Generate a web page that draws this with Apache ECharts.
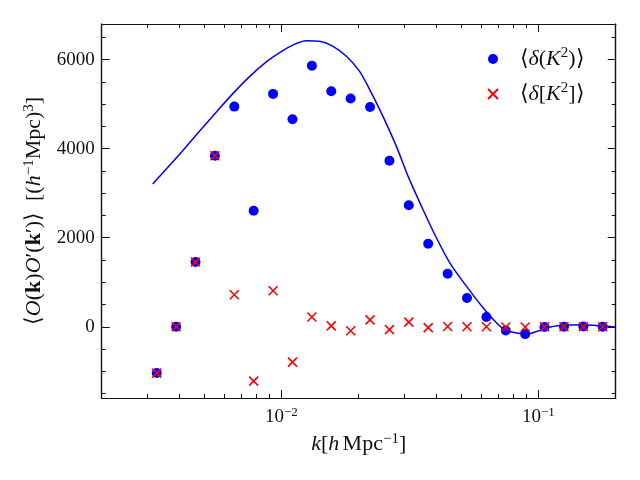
<!DOCTYPE html>
<html lang="en">
<head>
    <meta charset="UTF-8">
    <title>Title</title>
    <script src="https://cdn.jsdelivr.net/npm/echarts@6/dist/echarts.min.js"></script>
    <style>
        html, body { margin: 0; padding: 0; background: #fff; }
    </style>
</head>
<body>
    <div id="main" style="width: 640px;height:480px;"></div>

    <script type="text/javascript">

        // bin centres k [h/Mpc]
        var kBins = [0.003275, 0.003896, 0.004635, 0.005514, 0.006561, 0.007805, 0.009287, 0.01105,
                     0.01315, 0.01564, 0.01861, 0.02214, 0.02634, 0.03133, 0.03728, 0.04436,
                     0.05277, 0.06279, 0.0747, 0.08887, 0.1057, 0.1258, 0.1497, 0.178]
        // <delta(K^2)>  (blue dots)
        var roundVals = [-1040, 0, 1455, 3840, 4945, 2605, 5230, 4660,
                         5865, 5290, 5125, 4935, 3730, 2730, 1865, 1190,
                         645, 220, -85, -165, -5, 0, 5, 0]
        // <delta[K^2]>  (red crosses)
        var squareVals = [-1040, 0, 1455, 3840, 720, -1220, 810, -795,
                          220, 20, -90, 155, -65, 105, -20, 5,
                          0, 0, -5, -5, 0, 0, 0, 0]

        // model curve
        var lineK = [0.003159, 0.003954, 0.004802, 0.00558, 0.006477, 0.007521, 0.00874, 0.009849,
                     0.01127, 0.01252, 0.0141, 0.01589, 0.01792, 0.02019, 0.02248, 0.02488,
                     0.02806, 0.03114, 0.03512, 0.03957, 0.04529, 0.0526, 0.06104, 0.06885,
                     0.07418, 0.08234, 0.09012, 0.09858, 0.1111, 0.129, 0.1498, 0.1739, 0.199]
        var lineVals = [3206, 3827, 4393, 4820, 5236, 5618, 5948, 6157,
                        6348, 6426, 6411, 6298, 6074, 5730, 5236, 4719,
                        4045, 3377, 2703, 2067, 1431, 906, 420, 83,
                        -67, -142, -164, -106, -7, 38, 45, 22, -7]

        // ticks
        var xMajor = [0.01, 0.1]
        var xMinor = [0.003, 0.004, 0.005, 0.006, 0.007, 0.008, 0.009,
                      0.02, 0.03, 0.04, 0.05, 0.06, 0.07, 0.08, 0.09]
        var yMajor = [0, 2000, 4000, 6000]
        var yMinor = [-1500, -1000, -500, 500, 1000, 1500, 2500, 3000, 3500,
                      4500, 5000, 5500, 6500]

        var FONT = 'Liberation Serif'
        var INK = '#111'

        // rich text pieces: n normal, i italic, b bold, s superscript
        function makeRich(size, lh) {
            return {
                n: {fontFamily: FONT, fontSize: size, color: INK, lineHeight: lh},
                i: {fontFamily: FONT, fontStyle: 'italic', fontSize: size, color: INK, lineHeight: lh},
                b: {fontFamily: FONT, fontWeight: 'bold', fontSize: size, color: INK, lineHeight: lh},
                s: {fontFamily: FONT, fontSize: Math.round(size * 0.7), color: INK,
                    lineHeight: Math.round(size * 0.7), verticalAlign: 'top'}
            }
        }
        var tickRich = makeRich(19, 22)
        var nameRich = makeRich(22, 26)

        function pairs(xs, ys) {
            return xs.map(function (x, i) { return [x, ys[i]] })
        }
        function expLabel(v) {
            var e = Math.round(Math.log10(v))
            return '{n|10}{s|' + (e < 0 ? '−' + (-e) : e) + '}'
        }

        function xAx(pos, ticks, len, labels) {
            return {
                type: 'log', logBase: 10, min: 0.002, max: 0.2, position: pos,
                axisLine: {show: true, onZero: false, lineStyle: {color: INK, width: 1.2}},
                axisTick: {show: true, inside: true, length: len, customValues: ticks,
                           lineStyle: {color: INK, width: 1}},
                axisLabel: labels ? {show: true, customValues: ticks, margin: 8,
                                     formatter: expLabel, rich: tickRich}
                                  : {show: false},
                splitLine: {show: false}
            }
        }
        function yAx(pos, ticks, len, labels) {
            return {
                type: 'value', min: -1600, max: 6800, position: pos,
                axisLine: {show: true, onZero: false, lineStyle: {color: INK, width: 1.2}},
                axisTick: {show: true, inside: true, length: len, customValues: ticks,
                           lineStyle: {color: INK, width: 1}},
                axisLabel: labels ? {show: true, customValues: ticks, margin: 7,
                                     fontFamily: FONT, fontSize: 19, color: INK,
                                     formatter: function (v) { return String(v) }}
                                  : {show: false},
                splitLine: {show: false}
            }
        }

        var xAxes = [xAx('bottom', xMajor, 8, true), xAx('bottom', xMinor, 4, false),
                     xAx('top', xMajor, 8, false), xAx('top', xMinor, 4, false)]
        xAxes[0].name = '{i|k}{n|[}{i|h} {n|Mpc}{s|−1}{n|]}'
        xAxes[0].nameLocation = 'middle'
        xAxes[0].nameGap = 33
        xAxes[0].nameTextStyle = {rich: nameRich}

        var yAxes = [yAx('left', yMajor, 8, true), yAx('left', yMinor, 4, false),
                     yAx('right', yMajor, 8, false), yAx('right', yMinor, 4, false)]
        yAxes[0].name = '{n|⟨}{i|O}{n|(}{b|k}{n|)}{i|O}{n|′(}{b|k}{n|′)⟩  [(}{i|h}{s|−1}{n|Mpc)}{s|3}{n|]}'
        yAxes[0].nameLocation = 'middle'
        yAxes[0].nameGap = 54
        yAxes[0].nameTextStyle = {rich: nameRich}

        var crossPath = 'path://M0,0L10,10M10,0L0,10'

        var myChart = echarts.init(document.getElementById('main'))

        var option = {
            animation: false,
            backgroundColor: '#fff',
            grid: {left: 101.7, right: 24.3, top: 24, bottom: 82},
            xAxis: xAxes,
            yAxis: yAxes,
            legend: {
                left: 482, top: 41, orient: 'vertical',
                itemWidth: 43, itemHeight: 10, itemGap: 9,
                data: [{name: '⟨δ(K²)⟩', icon: 'circle'},
                       {name: '⟨δ[K²]⟩', icon: crossPath}],
                formatter: function (name) {
                    return name === '⟨δ(K²)⟩'
                        ? '{n|⟨}{i|δ}{n|(}{i|K}{s|2}{n|)⟩}'
                        : '{n|⟨}{i|δ}{n|[}{i|K}{s|2}{n|]⟩}'
                },
                textStyle: {lineHeight: 26, rich: nameRich}
            },
            series: [
                {
                    name: 'model',
                    type: 'line',
                    data: pairs(lineK, lineVals),
                    showSymbol: false,
                    symbol: 'none',
                    smooth: 0.3,
                    lineStyle: {color: '#0000ff', width: 1.5},
                    z: 2
                },
                {
                    name: '⟨δ(K²)⟩',
                    type: 'scatter',
                    data: pairs(kBins, roundVals),
                    symbol: 'circle',
                    symbolSize: 10,
                    itemStyle: {color: '#0000ff', opacity: 1},
                    z: 3
                },
                {
                    name: '⟨δ[K²]⟩',
                    type: 'scatter',
                    data: pairs(kBins, squareVals),
                    symbol: crossPath,
                    symbolSize: 9,
                    itemStyle: {color: 'rgba(255,0,0,0)', borderColor: '#ff0000', borderWidth: 1.6, opacity: 1},
                    z: 4
                }
            ]
        }
        myChart.setOption(option)
    </script>
</body>
</html>
